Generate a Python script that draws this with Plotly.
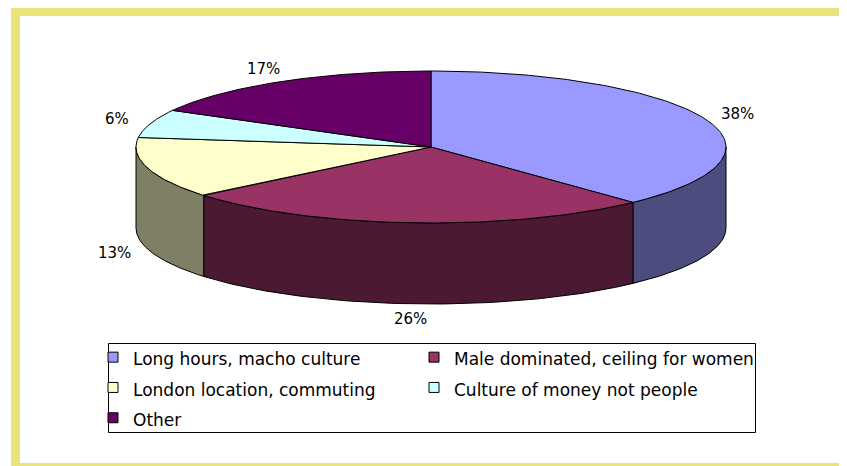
import numpy as np
import plotly.graph_objects as go

categories = ["Long hours, macho culture", "Male dominated, ceiling for women",
              "London location, commuting", "Culture of money not people", "Other"]
values = [38, 26, 13, 6, 17]
top_colors = ["#9999FF", "#993366", "#FFFFCC", "#CCFFFF", "#660066"]
side_colors = ["#4C4C7F", "#4C1933", "#7F7F66", "#667F7F", "#330033"]

PAGE_W, PAGE_H = 847, 466
OFF = 8  # default body margin of the html page
FIG_W, FIG_H = PAGE_W - OFF, PAGE_H - OFF
CX, CY, RX, RY, DEPTH = 431, 147, 295, 76, 81
FONT = "DejaVu Sans"


def pt(theta_deg, dy=0.0):
    t = np.radians(theta_deg)
    return CX + RX * np.sin(t), CY - RY * np.cos(t) + dy


fig = go.Figure()
total = sum(values)
bounds = np.cumsum([0] + values) / total * 360.0

# side faces (front half: 90..270 degrees clockwise from top)
for i in range(len(values)):
    a0, a1 = bounds[i], bounds[i + 1]
    s, e = max(a0, 90), min(a1, 270)
    if e <= s:
        continue
    th = np.linspace(s, e, 80)
    xt, yt = pt(th)
    xb, yb = pt(th[::-1], DEPTH)
    xs = np.concatenate([xt, xb, xt[:1]])
    ys = np.concatenate([yt, yb, yt[:1]])
    fig.add_trace(go.Scatter(x=xs, y=ys, mode="lines", fill="toself",
                             fillcolor=side_colors[i], line=dict(color="black", width=1),
                             showlegend=False, hoverinfo="skip"))

# top faces
for i in range(len(values)):
    a0, a1 = bounds[i], bounds[i + 1]
    th = np.linspace(a0, a1, 150)
    xa, ya = pt(th)
    xs = np.concatenate([[CX], xa, [CX]])
    ys = np.concatenate([[CY], ya, [CY]])
    fig.add_trace(go.Scatter(x=xs, y=ys, mode="lines", fill="toself",
                             fillcolor=top_colors[i], line=dict(color="black", width=1),
                             showlegend=False, hoverinfo="text", text=categories[i]))

# legend entries: two columns (row-major) -> two vertical legends
for i, name in enumerate(categories):
    fig.add_trace(go.Scatter(x=[None], y=[None], mode="markers",
                             marker=dict(symbol="square", size=10, color=top_colors[i],
                                         line=dict(color="black", width=1)),
                             legend=("legend2" if i % 2 == 1 else "legend"),
                             name='<span style="font-size:17px">' + name + '</span>'))

# percentage labels
annotations = []
for i, v in enumerate(values):
    mid = (bounds[i] + bounds[i + 1]) / 2
    t = np.radians(mid)
    lx = CX + (RX + 35) * np.sin(t)
    ly = CY - (RY + 15) * np.cos(t) + (DEPTH if np.cos(t) < 0 else 0)
    annotations.append(dict(x=lx, y=ly, xref="x", yref="y", text=f"{v}%",
                            showarrow=False, font=dict(family=FONT, size=15, color="black")))

LEG_TOP = 337
COL1_LEFT, COL2_LEFT = 93, 414


def legend_cfg(left):
    return dict(orientation="v",
                x=(left - OFF) / FIG_W, xanchor="left",
                y=1 - (LEG_TOP - OFF) / FIG_H, yanchor="top",
                borderwidth=0, bgcolor="rgba(0,0,0,0)",
                font=dict(family=FONT, size=21, color="black"),
                itemwidth=30, traceorder="normal", tracegroupgap=0)


fig.update_layout(
    width=FIG_W, height=FIG_H,
    margin=dict(l=0, r=0, t=0, b=0, autoexpand=False),
    paper_bgcolor="white", plot_bgcolor="white",
    xaxis=dict(range=[OFF, PAGE_W], visible=False, fixedrange=True),
    yaxis=dict(range=[PAGE_H, OFF], visible=False, fixedrange=True),
    font=dict(family=FONT, color="black"),
    annotations=annotations,
    showlegend=True,
    legend=legend_cfg(COL1_LEFT),
    legend2=legend_cfg(COL2_LEFT),
    shapes=[
        dict(type="rect", xref="x", yref="y", x0=108.5, x1=755.5, y0=343.5, y1=432.5,
             line=dict(color="black", width=1), layer="below"),
        dict(type="rect", xref="x", yref="y", x0=15.5, x1=846.5, y0=11.5, y1=467.5,
             line=dict(color="#E8E47A", width=9), layer="above"),
    ],
)

fig.write_html("out.html")
